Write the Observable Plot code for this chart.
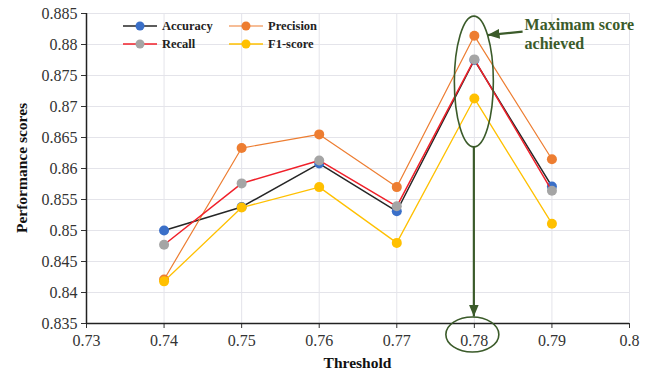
<!DOCTYPE html>
<html>
<head>
<meta charset="utf-8">
<script src="https://cdn.jsdelivr.net/npm/d3@7"></script>
<script src="https://cdn.jsdelivr.net/npm/@observablehq/plot@0.6"></script>
<style>
  html, body { margin: 0; padding: 0; background: #fff; }
  #chart svg { display: block; }
</style>
</head>
<body>
<div id="chart"></div>
<script>
// Performance of the classifier at each decision threshold
const thresholds = [0.74, 0.75, 0.76, 0.77, 0.78, 0.79];
const accuracy   = [0.8500, 0.8538, 0.8608, 0.8531, 0.8775, 0.8571];
const precision  = [0.8421, 0.8633, 0.8655, 0.8570, 0.8814, 0.8615];
const recall     = [0.8477, 0.8576, 0.8613, 0.8539, 0.8776, 0.8564];
const f1score    = [0.8418, 0.8537, 0.8570, 0.8480, 0.8713, 0.8511];

const xTicks = [0.73, 0.74, 0.75, 0.76, 0.77, 0.78, 0.79, 0.8];
const yTicks = [0.835, 0.84, 0.845, 0.85, 0.855, 0.86, 0.865, 0.87, 0.875, 0.88, 0.885];

const seriesNames = ["Accuracy", "Precision", "Recall", "F1-score"];
const seriesValues = [accuracy, precision, recall, f1score];
const lineColors = ["#262626", "#ED7D31", "#F0202A", "#FFC000"];
const dotColors = ["#3A6FC8", "#ED7D31", "#A5A5A5", "#FFC000"];
const lineWidths = [1.5, 1.2, 1.5, 1.3];

// Annotation: the best threshold and the band of scores it reaches
const bestThreshold = 0.78;
const bestBand = [0.8634, 0.8845];
const noteLines = ["Maximam score", "achieved"];

const green = "#3B5B2A";
const serif = "'Liberation Serif', 'Times New Roman', serif";

const fmt = d => String(+d.toFixed(3));

const marks = [
  Plot.ruleY(yTicks, {stroke: "#e4e4ea", strokeWidth: 1}),
  Plot.ruleX(xTicks.slice(1), {stroke: "#e4e4ea", strokeWidth: 1}),
  Plot.ruleX([xTicks[0]], {stroke: "#222", strokeWidth: 1.5}),
  Plot.ruleY([yTicks[0]], {stroke: "#222", strokeWidth: 1.5})
];
seriesNames.forEach((name, i) => {
  const rows = thresholds.map((t, j) => ({t, v: seriesValues[i][j]}));
  marks.push(Plot.line(rows, {x: "t", y: "v", stroke: lineColors[i], strokeWidth: lineWidths[i]}));
  marks.push(Plot.dot(rows, {x: "t", y: "v", r: 5, fill: dotColors[i], stroke: "none"}));
});

const chart = Plot.plot({
  width: 648,
  height: 374,
  marginLeft: 86,
  marginRight: 19,
  marginTop: 13,
  marginBottom: 51,
  style: {fontFamily: serif, fontSize: "16px", color: "#333", background: "#fff"},
  x: {domain: [0.73, 0.8], ticks: xTicks, tickFormat: fmt, tickSize: 5, tickPadding: 6, label: null},
  y: {domain: [0.835, 0.885], ticks: yTicks, tickFormat: fmt, tickSize: 5, tickPadding: 4, label: null},
  marks
});
document.getElementById("chart").appendChild(chart);

const sx = chart.scale("x"), sy = chart.scale("y");
const svg = d3.select(chart);
const frameL = sx.apply(0.73), frameR = sx.apply(0.8);
const frameT = sy.apply(0.885), frameB = sy.apply(0.835);

// Axis titles
svg.append("text")
  .attr("x", (frameL + frameR) / 2).attr("y", frameB + 45)
  .attr("text-anchor", "middle")
  .style("font", `bold 15.5px ${serif}`).attr("fill", "#111")
  .text("Threshold");
svg.append("text")
  .attr("transform", `translate(22,${(frameT + frameB) / 2}) rotate(-90)`)
  .attr("text-anchor", "middle").attr("dy", "0.35em")
  .style("font", `bold 15.5px ${serif}`).attr("fill", "#111")
  .text("Performance scores");

// Legend inside the plot frame
const legend = svg.append("g").attr("transform", `translate(${frameL + 37},${frameT + 13})`);
seriesNames.forEach((name, i) => {
  const g = legend.append("g").attr("transform", `translate(${(i % 2) * 106},${Math.floor(i / 2) * 18})`);
  g.append("line").attr("x1", 0).attr("x2", 34).attr("y1", 0).attr("y2", 0)
    .attr("stroke", lineColors[i]).attr("stroke-width", lineWidths[i]);
  g.append("circle").attr("cx", 17).attr("cy", 0).attr("r", 4.5).attr("fill", dotColors[i]);
  g.append("text").attr("x", 39).attr("y", 0).attr("dy", "0.35em")
    .attr("text-anchor", "start")
    .style("font", `bold 12.5px ${serif}`).attr("fill", "#222").text(name);
});

// Arrowhead marker
svg.append("defs").append("marker")
  .attr("id", "head").attr("viewBox", "0 0 12 10")
  .attr("refX", 12).attr("refY", 5)
  .attr("markerWidth", 12).attr("markerHeight", 10)
  .attr("markerUnits", "userSpaceOnUse").attr("orient", "auto")
  .append("path").attr("d", "M0,0 L12,5 L0,10 Z").attr("fill", green);

// Ellipse around the best scores
const cx = sx.apply(bestThreshold);
const yHi = sy.apply(bestBand[1]), yLo = sy.apply(bestBand[0]);
const cy = (yHi + yLo) / 2, ry = (yLo - yHi) / 2, rx = 19.5;
svg.append("ellipse").attr("cx", cx).attr("cy", cy).attr("rx", rx).attr("ry", ry)
  .attr("fill", "none").attr("stroke", green).attr("stroke-width", 1.6);

// Ellipse around the matching tick label
svg.append("ellipse").attr("cx", cx - 1.5).attr("cy", frameB + 11.5).attr("rx", 26.5).attr("ry", 17.5)
  .attr("fill", "none").attr("stroke", green).attr("stroke-width", 1.6);

// Arrow from the band down to the threshold
svg.append("line").attr("x1", cx).attr("x2", cx).attr("y1", yLo).attr("y2", frameB - 6.5)
  .attr("stroke", green).attr("stroke-width", 2.2).attr("marker-end", "url(#head)");

// Arrow from the note to the ellipse
const tipY = yHi + 19;
const tipX = cx + rx * Math.sqrt(1 - ((tipY - cy) / ry) ** 2);
svg.append("line").attr("x1", tipX + 35).attr("y1", tipY - 3.5).attr("x2", tipX).attr("y2", tipY)
  .attr("stroke", green).attr("stroke-width", 2.2).attr("marker-end", "url(#head)");

noteLines.forEach((t, i) => {
  svg.append("text").attr("x", tipX + 37).attr("y", frameT + 17 + i * 19)
    .attr("text-anchor", "start")
    .style("font", `bold 16px ${serif}`).attr("fill", green).text(t);
});
</script>
</body>
</html>
